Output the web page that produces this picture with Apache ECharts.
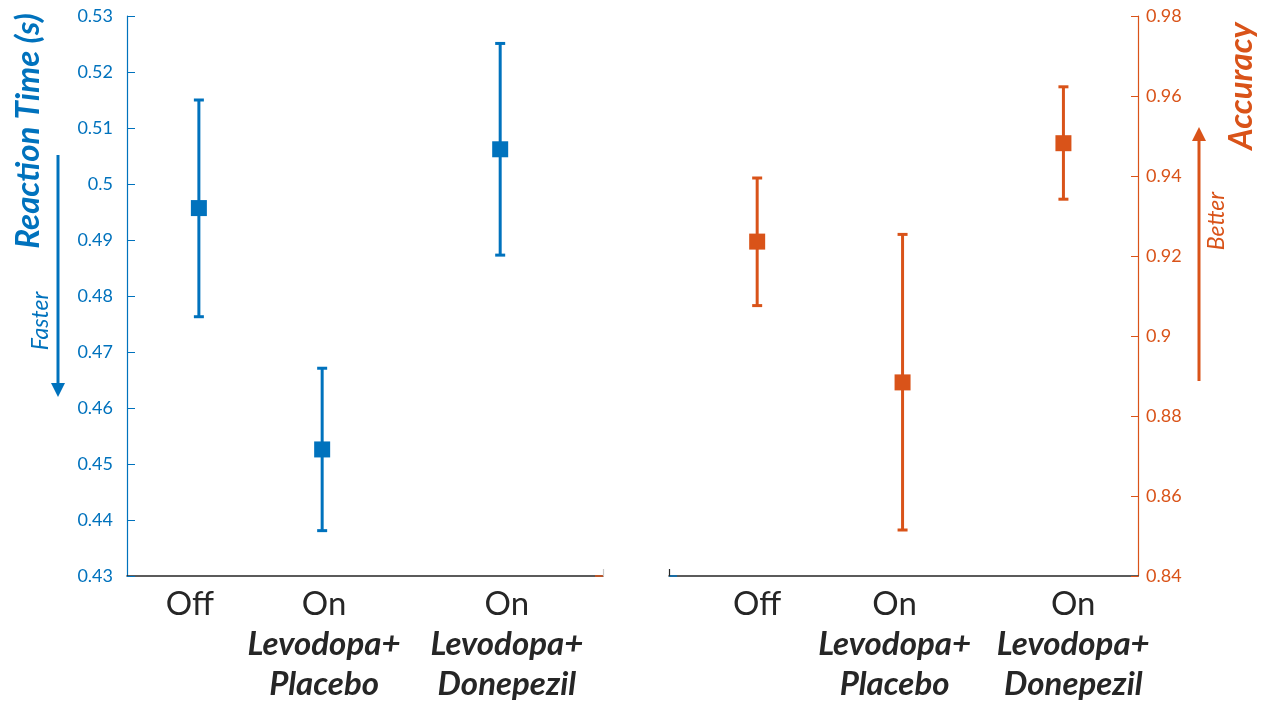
<!DOCTYPE html>
<html>
<head>
<meta charset="utf-8">
<script src="https://cdn.jsdelivr.net/npm/echarts@6/dist/echarts.min.js"></script>
<style>
html,body{margin:0;padding:0;background:#fff;}
#chart{width:1267px;height:706px;}
</style>
</head>
<body>
<div id="chart"></div>
<script>
// ---- data ----
const conditionLines = [['Off'], ['On', 'Levodopa+', 'Placebo'], ['On', 'Levodopa+', 'Donepezil']];
// horizontal positions of the three conditions in each panel (fraction of panel width)
const rtPointX = [0.151, 0.410, 0.784];
const rtLabelX = [0.132, 0.414, 0.798];
const accPointX = [0.188, 0.498, 0.841];
const accLabelX = [0.188, 0.481, 0.862];
// Reaction time (s)
const rtMean = [0.4957, 0.4526, 0.5062];
const rtLow  = [0.4763, 0.4381, 0.4873];
const rtHigh = [0.5150, 0.4671, 0.5251];
// Accuracy
const accMean = [0.9236, 0.8884, 0.9482];
const accLow  = [0.9076, 0.8515, 0.9342];
const accHigh = [0.9395, 0.9254, 0.9623];
// axis ranges
const rtAxis = {min: 0.43, max: 0.53, interval: 0.01};
const accAxis = {min: 0.84, max: 0.98, interval: 0.02};

const BLUE = '#0072BD';
const ORANGE = '#D95319';
const DARK = '#262626';
const FONT = 'Lato';

function labelFormatter(positions) {
  return function (v) {
    const idx = positions.findIndex(p => Math.abs(p - v) < 1e-6);
    if (idx < 0) return '';
    const lines = conditionLines[idx];
    return lines[0] + lines.slice(1).map(s => '\n{i|' + s + '}').join('');
  };
}

function makeXAxis(gridIndex, labelPositions, tickVal, tickColor) {
  return {
    gridIndex: gridIndex, type: 'value', min: 0, max: 1,
    splitLine: {show: false},
    axisLine: {show: true, onZero: false, lineStyle: {color: DARK, width: 1.5}},
    axisTick: {show: true, inside: true, length: 7, customValues: [tickVal], lineStyle: {color: tickColor, width: 1.2}},
    axisLabel: {
      customValues: labelPositions,
      formatter: labelFormatter(labelPositions),
      margin: 8,
      color: DARK, fontFamily: FONT, fontSize: 33, lineHeight: 40,
      rich: {i: {fontFamily: FONT, fontSize: 33, fontStyle: 'italic', fontWeight: 'bold', lineHeight: 40, color: DARK}}
    }
  };
}

function errorSeries(xi, yi, xs, lo, hi, color) {
  return {
    type: 'custom', xAxisIndex: xi, yAxisIndex: yi,
    data: xs.map((x, i) => [x, lo[i], hi[i]]),
    renderItem: function (params, api) {
      const x = api.value(0);
      const top = api.coord([x, api.value(2)]);
      const bot = api.coord([x, api.value(1)]);
      const hw = 5;
      const st = {stroke: color, lineWidth: 3};
      return {type: 'group', children: [
        {type: 'line', shape: {x1: top[0], y1: top[1], x2: bot[0], y2: bot[1]}, style: st},
        {type: 'line', shape: {x1: top[0] - hw, y1: top[1], x2: top[0] + hw, y2: top[1]}, style: st},
        {type: 'line', shape: {x1: bot[0] - hw, y1: bot[1], x2: bot[0] + hw, y2: bot[1]}, style: st}
      ]};
    },
    silent: true, z: 3
  };
}

function meanSeries(xi, yi, xs, ys, color) {
  return {
    type: 'scatter', xAxisIndex: xi, yAxisIndex: yi,
    data: xs.map((x, i) => [x, ys[i]]),
    symbol: 'rect', symbolSize: 16,
    itemStyle: {color: color, opacity: 1},
    silent: true, z: 4
  };
}

const chart = echarts.init(document.getElementById('chart'));
chart.setOption({
  animation: false,
  backgroundColor: '#fff',
  grid: [
    {left: 127, top: 16, width: 476, height: 560},
    {left: 669, top: 16, width: 469, height: 560}
  ],
  xAxis: [
    makeXAxis(0, rtLabelX, 1, '#c8c8c8'),
    makeXAxis(1, accLabelX, 0, DARK)
  ],
  yAxis: [
    {
      gridIndex: 0, type: 'value', position: 'left',
      min: rtAxis.min, max: rtAxis.max, interval: rtAxis.interval,
      splitLine: {show: false},
      axisLine: {show: true, onZero: false, lineStyle: {color: BLUE, width: 1.2}},
      axisTick: {show: true, inside: true, length: 8, lineStyle: {color: BLUE, width: 1}},
      axisLabel: {color: BLUE, fontFamily: FONT, fontSize: 18, margin: 14}
    },
    {
      gridIndex: 0, type: 'value', position: 'right',
      min: accAxis.min, max: accAxis.max,
      splitLine: {show: false}, axisLine: {show: false, onZero: false}, axisLabel: {show: false},
      axisTick: {show: true, inside: true, length: 8, customValues: [accAxis.min], lineStyle: {color: ORANGE, width: 1.5}}
    },
    {
      gridIndex: 1, type: 'value', position: 'right',
      min: accAxis.min, max: accAxis.max, interval: accAxis.interval,
      splitLine: {show: false},
      axisLine: {show: true, onZero: false, lineStyle: {color: ORANGE, width: 1.2}},
      axisTick: {show: true, inside: true, length: 7, lineStyle: {color: ORANGE, width: 1}},
      axisLabel: {color: ORANGE, fontFamily: FONT, fontSize: 18, margin: 8}
    },
    {
      gridIndex: 1, type: 'value', position: 'left',
      min: rtAxis.min, max: rtAxis.max,
      splitLine: {show: false}, axisLine: {show: false, onZero: false}, axisLabel: {show: false},
      axisTick: {show: true, inside: true, length: 8, customValues: [rtAxis.min], lineStyle: {color: BLUE, width: 1.5}}
    }
  ],
  series: [
    errorSeries(0, 0, rtPointX, rtLow, rtHigh, BLUE),
    meanSeries(0, 0, rtPointX, rtMean, BLUE),
    errorSeries(1, 2, accPointX, accLow, accHigh, ORANGE),
    meanSeries(1, 2, accPointX, accMean, ORANGE)
  ],
  graphic: [
    {type: 'text', x: 28, y: 131, rotation: Math.PI / 2,
     style: {text: 'Reaction Time (s)', fill: BLUE, font: 'italic bold 33px Lato', align: 'center', verticalAlign: 'middle'}},
    {type: 'text', x: 41, y: 321, rotation: Math.PI / 2,
     style: {text: 'Faster', fill: BLUE, font: 'italic 23px Lato', align: 'center', verticalAlign: 'middle'}},
    {type: 'line', shape: {x1: 58, y1: 155, x2: 58, y2: 385}, style: {stroke: BLUE, lineWidth: 3}},
    {type: 'polygon', shape: {points: [[51, 383], [65, 383], [58, 397]]}, style: {fill: BLUE}},
    {type: 'text', x: 1241, y: 86, rotation: Math.PI / 2,
     style: {text: 'Accuracy', fill: ORANGE, font: 'italic bold 33px Lato', align: 'center', verticalAlign: 'middle'}},
    {type: 'text', x: 1217, y: 221, rotation: Math.PI / 2,
     style: {text: 'Better', fill: ORANGE, font: 'italic 23px Lato', align: 'center', verticalAlign: 'middle'}},
    {type: 'line', shape: {x1: 1199, y1: 381, x2: 1199, y2: 138}, style: {stroke: ORANGE, lineWidth: 3}},
    {type: 'polygon', shape: {points: [[1192, 141], [1206, 141], [1199, 127]]}, style: {fill: ORANGE}}
  ]
});
</script>
</body>
</html>
